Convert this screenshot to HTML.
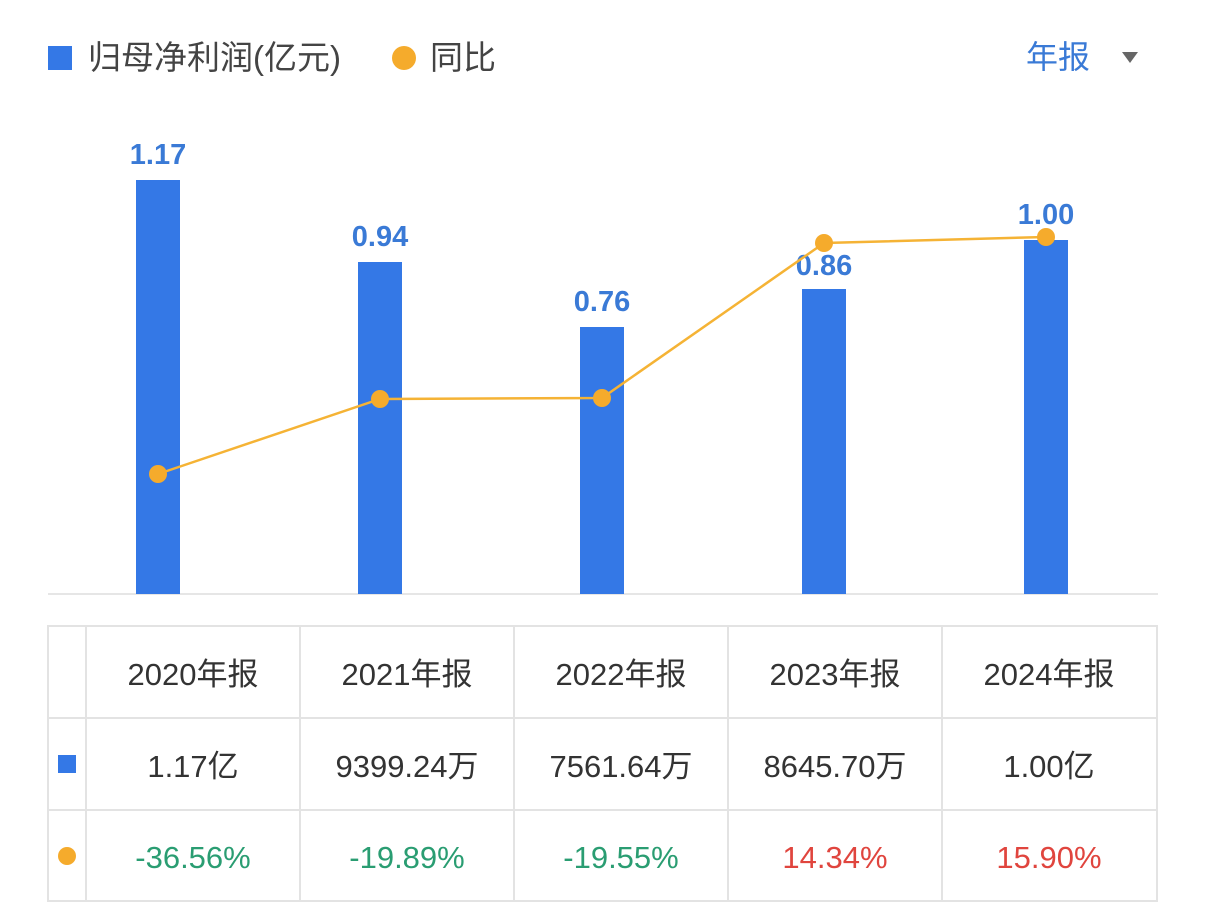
<!DOCTYPE html>
<html><head><meta charset="utf-8"><style>
html,body{margin:0;padding:0;background:#fff;}
svg{display:block;font-family:"Liberation Sans","Noto Sans CJK SC",sans-serif;}
</style></head><body>
<svg width="1206" height="921" viewBox="0 0 1206 921">
<rect x="48" y="46" width="24" height="24" fill="#3478e6"/>
<text x="88" y="69" font-size="33" fill="#444">归母净利润(亿元)</text>
<circle cx="404" cy="58" r="12" fill="#f5ab2c"/>
<text x="430" y="69" font-size="33" fill="#444">同比</text>
<text x="1026" y="68" font-size="32" fill="#3a7ad6">年报</text>
<polygon points="1122,52 1138,52 1130,63" fill="#666"/>
<line x1="48" y1="594" x2="1158" y2="594" stroke="#e6e6e6" stroke-width="2"/>
<g fill="#3478e6">
<rect x="136" y="180" width="44" height="414"/>
<rect x="358" y="262" width="44" height="332"/>
<rect x="580" y="327" width="44" height="267"/>
<rect x="802" y="289" width="44" height="305"/>
<rect x="1024" y="240" width="44" height="354"/>
</g>
<g font-size="29" fill="#3a7ad6" text-anchor="middle" font-weight="bold">
<text x="158" y="164">1.17</text>
<text x="380" y="246">0.94</text>
<text x="602" y="311">0.76</text>
<text x="824" y="275">0.86</text>
<text x="1046" y="224">1.00</text>
</g>
<polyline points="158,474 380,399 602,398 824,243 1046,237" fill="none" stroke="#f5b335" stroke-width="2.5"/>
<g fill="#f5ab2c">
<circle cx="158" cy="474" r="9"/><circle cx="380" cy="399" r="9"/><circle cx="602" cy="398" r="9"/><circle cx="824" cy="243" r="9"/><circle cx="1046" cy="237" r="9"/>
</g>
<g stroke="#e3e3e3" stroke-width="2" fill="none">
<rect x="48" y="626" width="1109" height="275"/>
<line x1="48" y1="718" x2="1157" y2="718"/>
<line x1="48" y1="810" x2="1157" y2="810"/>
<line x1="86" y1="626" x2="86" y2="901"/>
<line x1="300" y1="626" x2="300" y2="901"/>
<line x1="514" y1="626" x2="514" y2="901"/>
<line x1="728" y1="626" x2="728" y2="901"/>
<line x1="942" y1="626" x2="942" y2="901"/>
</g>
<rect x="58" y="755" width="18" height="18" fill="#3478e6"/>
<circle cx="67" cy="856" r="9" fill="#f5ab2c"/>
<g font-size="31" fill="#333" text-anchor="middle">
<text x="193" y="685">2020年报</text>
<text x="407" y="685">2021年报</text>
<text x="621" y="685">2022年报</text>
<text x="835" y="685">2023年报</text>
<text x="1049" y="685">2024年报</text>
<text x="193" y="777">1.17亿</text>
<text x="407" y="777">9399.24万</text>
<text x="621" y="777">7561.64万</text>
<text x="835" y="777">8645.70万</text>
<text x="1049" y="777">1.00亿</text>
<g fill="#2a9d72"><text x="193" y="868">-36.56%</text><text x="407" y="868">-19.89%</text><text x="621" y="868">-19.55%</text></g>
<g fill="#e0453e"><text x="835" y="868">14.34%</text><text x="1049" y="868">15.90%</text></g>
</g>
</svg>
</body></html>
